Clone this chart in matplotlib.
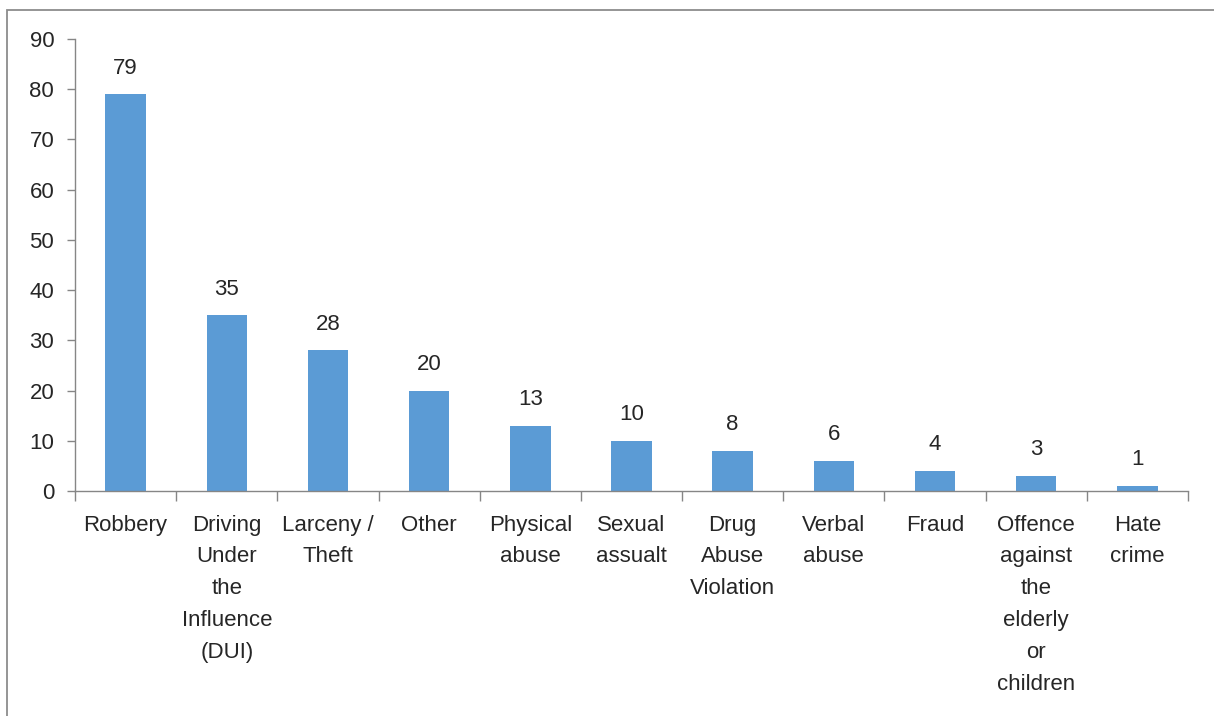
import matplotlib

matplotlib.use("Agg")
import matplotlib.pyplot as plt
from matplotlib.patches import Rectangle
import numpy as np

categories = [
    "Robbery",
    "Driving\nUnder\nthe\nInfluence\n(DUI)",
    "Larceny /\nTheft",
    "Other",
    "Physical\nabuse",
    "Sexual\nassualt",
    "Drug\nAbuse\nViolation",
    "Verbal\nabuse",
    "Fraud",
    "Offence\nagainst\nthe\nelderly\nor\nchildren",
    "Hate\ncrime",
]
counts = [79, 35, 28, 20, 13, 10, 8, 6, 4, 3, 1]
yticks = [0, 10, 20, 30, 40, 50, 60, 70, 80, 90]

BAR = "#5b9bd5"
AXIS = "#868686"
TXT = "#262626"

plt.rcParams["font.family"] = ["Liberation Sans", "DejaVu Sans"]

fig = plt.figure(figsize=(12.14, 7.16), dpi=100)
# outer chart frame (only top and left edges visible)
fig.add_artist(Rectangle((7 / 1214, -0.01), 1.05, (716 - 9.5) / 716 + 0.01,
                         transform=fig.transFigure, fill=False,
                         ec="#8c8c8c", lw=1.3))

ax = fig.add_axes([75 / 1214, (716 - 491) / 716, (1188 - 75) / 1214, (491 - 39) / 716])
x = np.arange(len(categories))
bars = ax.bar(x, counts, width=0.4, color=BAR, zorder=2)
for xi, v in zip(x, counts):
    ax.text(xi, v + 3.1, str(v), ha="center", va="bottom", fontsize=16, color=TXT)

ax.set_xlim(-0.5, len(categories) - 0.5)
ax.set_ylim(0, 90)
ax.set_yticks(yticks)
ax.tick_params(axis="y", labelsize=16, labelcolor=TXT, color=AXIS,
               length=6, width=1, pad=9)

ax.set_xticks(x)
ax.set_xticklabels(categories, fontsize=16, color=TXT, linespacing=1.68, va="top")
ax.tick_params(axis="x", which="major", length=0, pad=17)
ax.set_xticks(np.arange(-0.5, len(categories)), minor=True)
ax.tick_params(axis="x", which="minor", length=7, color=AXIS, width=1)

for s in ("top", "right"):
    ax.spines[s].set_visible(False)
for s in ("left", "bottom"):
    ax.spines[s].set_color(AXIS)
    ax.spines[s].set_linewidth(1)

fig.savefig("out.png", dpi=100, facecolor="white")
